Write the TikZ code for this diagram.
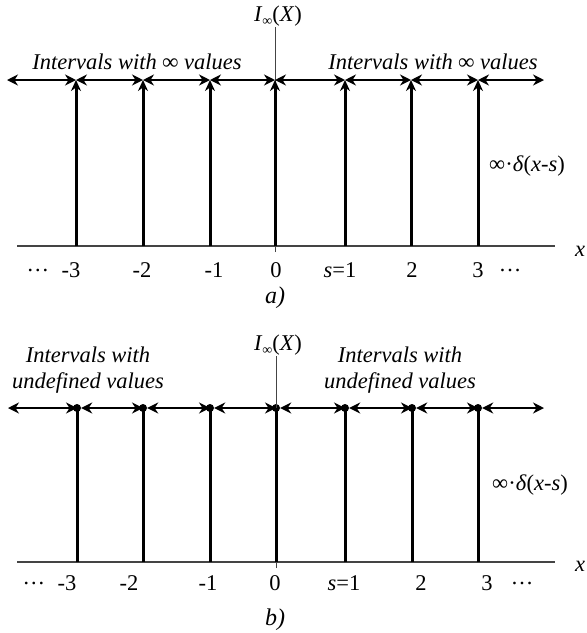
\documentclass[tikz,border=0pt]{standalone}
\usepackage{fontspec}
\setmainfont{Liberation Serif}
\usepackage{tikz}
\usetikzlibrary{arrows.meta,positioning}
\definecolor{ink}{HTML}{000000}
\definecolor{axisgray}{HTML}{444444}
\tikzset{
  lbl/.style={font=\fontsize{22.5}{26}\selectfont, inner sep=1pt, text=ink},
  itlbl/.style={lbl, font=\fontsize{22.5}{26}\selectfont\itshape, align=center},
  caption/.style={lbl, font=\fontsize{24}{28}\selectfont\itshape},
  axisline/.style={draw=axisgray, line width=1.3pt},
  thinline/.style={draw=axisgray, line width=0.9pt},
  spike/.style={draw=ink, line width=3pt},
  spikearrow/.style={spike, -{Stealth[length=11pt, width=10pt]}},
  interval/.style={draw=ink, line width=2.2pt, {Stealth[length=11pt, width=11pt]}-{Stealth[length=11pt, width=11pt]}},
  dot/.style={circle, fill=ink, inner sep=0pt, minimum size=8pt}
}
\newcommand{\Iinf}{\textit{I}\raisebox{-0.35ex}{\fontsize{14}{14}\selectfont ∞}(\textit{X})}
\newcommand{\deltas}{∞·\textit{δ}(\textit{x}-\textit{s})}

\begin{document}
\begin{tikzpicture}[x=1pt, y=-1pt]
  \useasboundingbox (0,0) rectangle (587,633);

  % a) intervals with infinite values
  \foreach \n/\px in {m3/76, m2/143, m1/210, z/275, p1/345, p2/411, p3/478} {
    \coordinate (a\n) at (\px,246);
    \coordinate (at\n) at (\px,80);
  }
  \coordinate (aL) at (7,80);
  \coordinate (aR) at (544,80);
  \coordinate (axL) at (17,246);
  \coordinate (axR) at (555,246);
  \coordinate (atick) at (275,252);
  \node[lbl] (Ia) at (278,16) {\Iinf};
  \node[itlbl] (inta1) at (137,62) {Intervals with ∞ values};
  \node[itlbl] (inta2) at (433,62) {Intervals with ∞ values};
  \node[lbl] (dela) at (527,166) {\deltas};
  \node[itlbl] (xa) at (580,251) {x};
  \node[lbl] (dotsa1) at (38,270) {…};
  \node[lbl] (ma3) at (71,270) {-3};
  \node[lbl] (ma2) at (142,270) {-2};
  \node[lbl] (ma1) at (214,270) {-1};
  \node[lbl] (za) at (276,270) {0};
  \node[lbl] (pa1) at (340,270) {\textit{s}=1};
  \node[lbl] (pa2) at (412,270) {2};
  \node[lbl] (pa3) at (478,270) {3};
  \node[lbl] (dotsa2) at (510,270) {…};
  \node[caption] (capa) at (275,298) {a)};

  \draw[axisline] (axL) -- (axR);
  \draw[thinline] (atick) -- (Ia.south -| atick);
  \foreach \n in {m3, m2, m1, z, p1, p2, p3}
    \draw[spikearrow] (a\n) -- (at\n);
  \foreach \u/\v in {L/tm3, tm3/tm2, tm2/tm1, tm1/tz, tz/tp1, tp1/tp2, tp2/tp3, tp3/R}
    \draw[interval] (a\u) -- (a\v);

  % b) intervals with undefined values
  \foreach \n/\px in {m3/77, m2/143, m1/210, z/276, p1/345, p2/412, p3/478} {
    \coordinate (b\n) at (\px,562);
    \node[dot] (bt\n) at (\px,408) {};
  }
  \coordinate (bL) at (8,408);
  \coordinate (bR) at (544,408);
  \coordinate (bxL) at (17,562);
  \coordinate (bxR) at (555,562);
  \coordinate (btick) at (276,568);
  \node[lbl] (Ib) at (278,345) {\Iinf};
  \node[itlbl] (intb1) at (88,370) {Intervals with\\undefined values};
  \node[itlbl] (intb2) at (400,370) {Intervals with\\undefined values};
  \node[lbl] (delb) at (530,485) {\deltas};
  \node[itlbl] (xb) at (580,566) {x};
  \node[lbl] (dotsb1) at (34,583) {…};
  \node[lbl] (mb3) at (67,583) {-3};
  \node[lbl] (mb2) at (129,583) {-2};
  \node[lbl] (mb1) at (208,583) {-1};
  \node[lbl] (zb) at (275,583) {0};
  \node[lbl] (pb1) at (344,583) {\textit{s}=1};
  \node[lbl] (pb2) at (421,583) {2};
  \node[lbl] (pb3) at (487,583) {3};
  \node[lbl] (dotsb2) at (522,583) {…};
  \node[caption] (capb) at (275,620) {b)};

  \draw[axisline] (bxL) -- (bxR);
  \draw[thinline] (btick) -- (Ib.south -| btick);
  \foreach \n in {m3, m2, m1, z, p1, p2, p3}
    \draw[spike] (b\n) -- (bt\n.center);
  \foreach \u/\v in {L/tm3, tm3/tm2, tm2/tm1, tm1/tz, tz/tp1, tp1/tp2, tp2/tp3, tp3/R}
    \draw[interval] (b\u) -- (b\v.center);
\end{tikzpicture}
\end{document}
